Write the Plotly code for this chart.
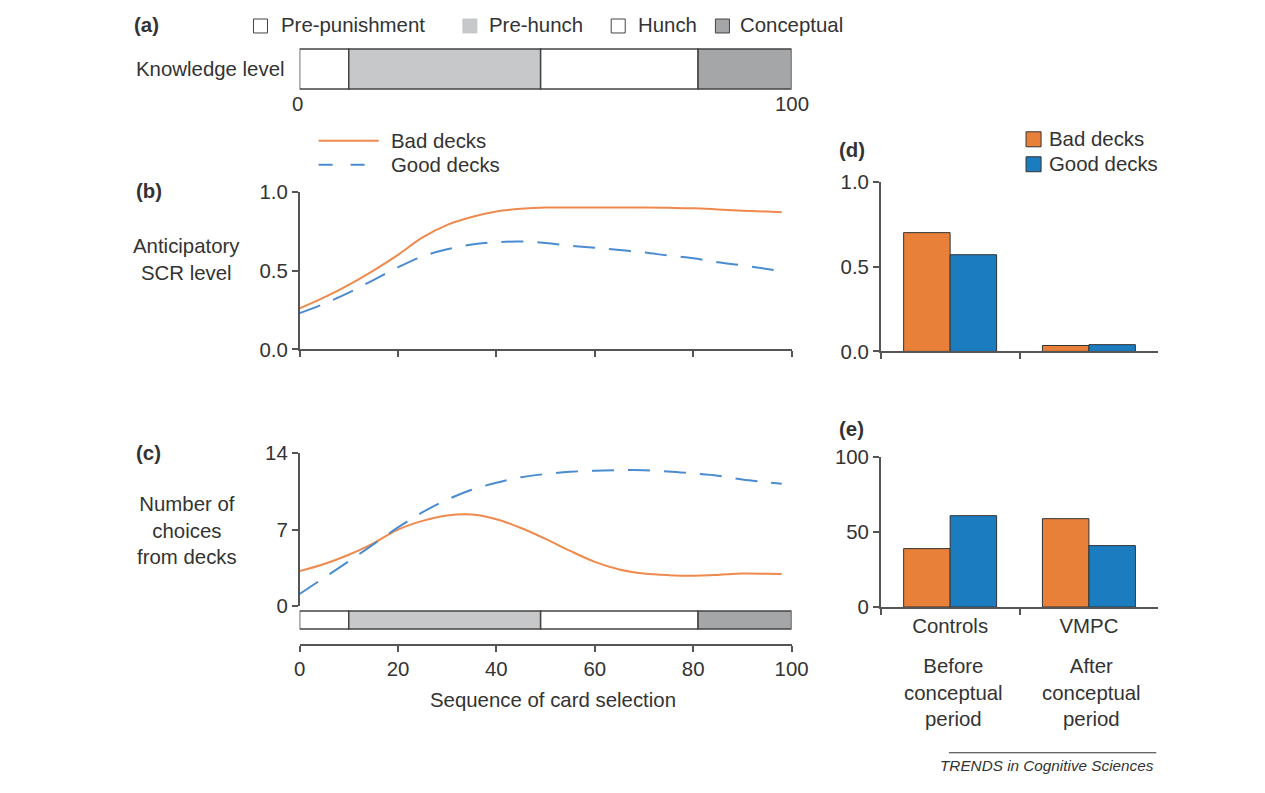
import plotly.graph_objects as go

# observed photo mapping: page = (15 + 0.98*fx, 18 + 0.974*fy)
SX, SY, OX, OY = 0.98, 0.974, 15, 18
W, H = 1276, 796
def X(px): return ((px - OX) / SX) / W
def Y(py): return 1 - ((py - OY) / SY) / H

# ---------------- data ----------------
stage_names = ["Pre-punishment", "Pre-hunch", "Hunch", "Conceptual"]
stage_bounds = [0, 10, 49, 81, 100]
stage_colors = ["#FFFFFF", "#C7C8CA", "#FFFFFF", "#A5A6A8"]

seq = [0, 5, 10, 15, 20, 25, 30, 35, 40, 45, 50, 55, 60, 65, 70, 75, 80, 85, 90, 95, 98]
scr_bad = [0.26, 0.33, 0.41, 0.50, 0.60, 0.71, 0.79, 0.84, 0.875, 0.892, 0.90, 0.90, 0.90,
           0.90, 0.90, 0.898, 0.895, 0.888, 0.88, 0.874, 0.87]
scr_good = [0.23, 0.29, 0.36, 0.44, 0.52, 0.59, 0.635, 0.665, 0.68, 0.684, 0.675, 0.658,
            0.645, 0.63, 0.615, 0.595, 0.578, 0.553, 0.533, 0.51, 0.495]
choices_bad = [3.2, 3.85, 4.7, 5.75, 7.0, 7.8, 8.3, 8.38, 7.95, 7.15, 6.15, 5.05, 4.05, 3.35,
               2.98, 2.83, 2.78, 2.85, 2.97, 2.95, 2.93]
choices_good = [1.1, 2.6, 4.1, 5.65, 7.2, 8.6, 9.75, 10.65, 11.3, 11.8, 12.1, 12.3, 12.4,
                12.45, 12.45, 12.33, 12.15, 11.95, 11.6, 11.35, 11.2]

groups = ["Controls", "VMPC"]
group_notes = ["Before<br>conceptual<br>period", "After<br>conceptual<br>period"]
bar_scr_bad = [0.70, 0.035]
bar_scr_good = [0.57, 0.04]
bar_pct_bad = [39, 59]
bar_pct_good = [61, 41]

seq_ticks = [0, 20, 40, 60, 80, 100]

# ---------------- style ----------------
ORANGE_LINE = "#EF8A4E"
BLUE_LINE = "#4A8CD0"
ORANGE_BAR = "#E8803A"
BLUE_BAR = "#1C7CC0"
AX = "#555555"
TXT = "#333333"
FONT = "Liberation Sans, Arial, sans-serif"
FS = 20.4

fig = go.Figure()

fig.add_trace(go.Scatter(x=seq, y=scr_bad, mode="lines", line=dict(color=ORANGE_LINE, width=2, shape="spline"),
                         xaxis="x", yaxis="y", showlegend=False, hoverinfo="skip"))
fig.add_trace(go.Scatter(x=seq, y=scr_good, mode="lines",
                         line=dict(color=BLUE_LINE, width=2, shape="spline", dash="22px,14px"),
                         xaxis="x", yaxis="y", showlegend=False, hoverinfo="skip"))
fig.add_trace(go.Scatter(x=seq, y=choices_bad, mode="lines", line=dict(color=ORANGE_LINE, width=2, shape="spline"),
                         xaxis="x2", yaxis="y2", showlegend=False, hoverinfo="skip"))
fig.add_trace(go.Scatter(x=seq, y=choices_good, mode="lines",
                         line=dict(color=BLUE_LINE, width=2, shape="spline", dash="22px,14px"),
                         xaxis="x2", yaxis="y2", showlegend=False, hoverinfo="skip"))
bar_line = dict(color="#333333", width=1)
fig.add_trace(go.Bar(x=groups, y=bar_scr_bad, marker=dict(color=ORANGE_BAR, line=bar_line),
                     xaxis="x3", yaxis="y3", showlegend=False, hoverinfo="skip"))
fig.add_trace(go.Bar(x=groups, y=bar_scr_good, marker=dict(color=BLUE_BAR, line=bar_line),
                     xaxis="x3", yaxis="y3", showlegend=False, hoverinfo="skip"))
fig.add_trace(go.Bar(x=groups, y=bar_pct_bad, marker=dict(color=ORANGE_BAR, line=bar_line),
                     xaxis="x4", yaxis="y4", showlegend=False, hoverinfo="skip"))
fig.add_trace(go.Bar(x=groups, y=bar_pct_good, marker=dict(color=BLUE_BAR, line=bar_line),
                     xaxis="x4", yaxis="y4", showlegend=False, hoverinfo="skip"))

common = dict(showgrid=False, zeroline=False, showline=True, linecolor=AX, linewidth=1.5,
              ticks="outside", ticklen=6, tickcolor=AX, tickwidth=1.5,
              tickfont=dict(family=FONT, size=FS, color=TXT))

xdom = [X(300), X(791)]
bdom = [X(880), X(1157)]

shapes = []
annotations = []

for (top, bot) in [(48, 88), (611, 629)]:
    for i in range(len(stage_names)):
        shapes.append(dict(type="rect", xref="x", yref="paper",
                           x0=stage_bounds[i], x1=stage_bounds[i + 1], y0=Y(bot), y1=Y(top),
                           fillcolor=stage_colors[i], line=dict(color="#444444", width=1.5)))

legend_a = [(254, 279), (463, 487), (611, 636), (715, 738)]
for i, (bx, tx) in enumerate(legend_a):
    lc = "#444444" if stage_colors[i] != "#C7C8CA" else "#C7C8CA"
    shapes.append(dict(type="rect", xref="paper", yref="paper", x0=X(bx), x1=X(bx + 14),
                       y0=Y(32), y1=Y(18), fillcolor=stage_colors[i], line=dict(color=lc, width=1)))
    annotations.append(dict(x=X(tx), y=Y(24), text=stage_names[i], xanchor="left"))

annotations += [
    dict(x=X(133), y=Y(24), text="<b>(a)</b>", xanchor="left"),
    dict(x=X(135), y=Y(68), text="Knowledge level", xanchor="left"),
    dict(x=X(298), y=Y(103), text="0", xanchor="center"),
    dict(x=X(791), y=Y(103), text="100", xanchor="center"),
    dict(x=X(135), y=Y(190), text="<b>(b)</b>", xanchor="left"),
    dict(x=X(187), y=Y(259), text="Anticipatory<br>SCR level", xanchor="center"),
    dict(x=X(135), y=Y(453), text="<b>(c)</b>", xanchor="left"),
    dict(x=X(188), y=Y(530), text="Number of<br>choices<br>from decks", xanchor="center"),
    dict(x=X(553), y=Y(700), text="Sequence of card selection", xanchor="center"),
    dict(x=X(836), y=Y(149), text="<b>(d)</b>", xanchor="left"),
    dict(x=X(836), y=Y(429), text="<b>(e)</b>", xanchor="left"),
    dict(x=X(389), y=Y(140), text="Bad decks", xanchor="left"),
    dict(x=X(389), y=Y(164), text="Good decks", xanchor="left"),
    dict(x=X(1046), y=Y(138), text="Bad decks", xanchor="left"),
    dict(x=X(1046), y=Y(163), text="Good decks", xanchor="left"),
    dict(x=X(1155), y=Y(766), text="<i>TRENDS in Cognitive Sciences</i>", xanchor="right",
         font=dict(family=FONT, size=15.3, color=TXT)),
]
for i, note in enumerate(group_notes):
    annotations.append(dict(x=X(953 + 137 * i), y=Y(693), text=note, xanchor="center"))

for a in annotations:
    a.setdefault("xref", "paper")
    a.setdefault("yref", "paper")
    a.setdefault("showarrow", False)
    a.setdefault("yanchor", "middle")
    a.setdefault("font", dict(family=FONT, size=FS, color=TXT))

shapes.append(dict(type="line", xref="paper", yref="paper", x0=X(319), x1=X(379), y0=Y(140), y1=Y(140),
                   line=dict(color=ORANGE_LINE, width=2)))
shapes.append(dict(type="line", xref="paper", yref="paper", x0=X(319), x1=X(379), y0=Y(164), y1=Y(164),
                   line=dict(color=BLUE_LINE, width=2, dash="14px,18px")))
shapes.append(dict(type="rect", xref="paper", yref="paper", x0=X(1025), x1=X(1040), y0=Y(146), y1=Y(131),
                   fillcolor=ORANGE_BAR, line=dict(color="#333333", width=1)))
shapes.append(dict(type="rect", xref="paper", yref="paper", x0=X(1025), x1=X(1040), y0=Y(171), y1=Y(156),
                   fillcolor=BLUE_BAR, line=dict(color="#333333", width=1)))
shapes.append(dict(type="line", xref="paper", yref="paper", x0=X(948), x1=X(1155), y0=Y(753), y1=Y(753),
                   line=dict(color="#333333", width=1)))

fig.update_layout(
    width=W, height=H, autosize=False,
    margin=dict(l=0, r=0, t=0, b=0),
    paper_bgcolor="white", plot_bgcolor="rgba(0,0,0,0)",
    font=dict(family=FONT, size=FS, color=TXT),
    barmode="group", bargap=0.33, bargroupgap=0,
    shapes=shapes, annotations=annotations,
    xaxis=dict(domain=xdom, range=[0, 100], tickvals=seq_ticks, showticklabels=False,
               anchor="y", **common),
    yaxis=dict(domain=[Y(349), Y(191)], range=[0, 1], tickvals=[0, 0.5, 1],
               tickformat=".1f", anchor="x", **common),
    xaxis2=dict(domain=xdom, range=[0, 100], tickvals=seq_ticks, anchor="free",
                position=Y(645), **common),
    yaxis2=dict(domain=[Y(606), Y(453)], range=[0, 14], tickvals=[0, 7, 14],
                anchor="x2", **common),
    xaxis3=dict(domain=bdom, type="category", tickson="boundaries", showticklabels=False,
                anchor="y3", range=[-0.5, 1.5], **common),
    yaxis3=dict(domain=[Y(351), Y(181)], range=[0, 1], tickvals=[0, 0.5, 1], tickformat=".1f",
                anchor="x3", **common),
    xaxis4=dict(domain=bdom, type="category", tickson="boundaries", anchor="y4",
                range=[-0.5, 1.5], **common),
    yaxis4=dict(domain=[Y(607), Y(457)], range=[0, 100], tickvals=[0, 50, 100],
                anchor="x4", **common),
)

fig.write_html("out.html", config={"displayModeBar": False})
